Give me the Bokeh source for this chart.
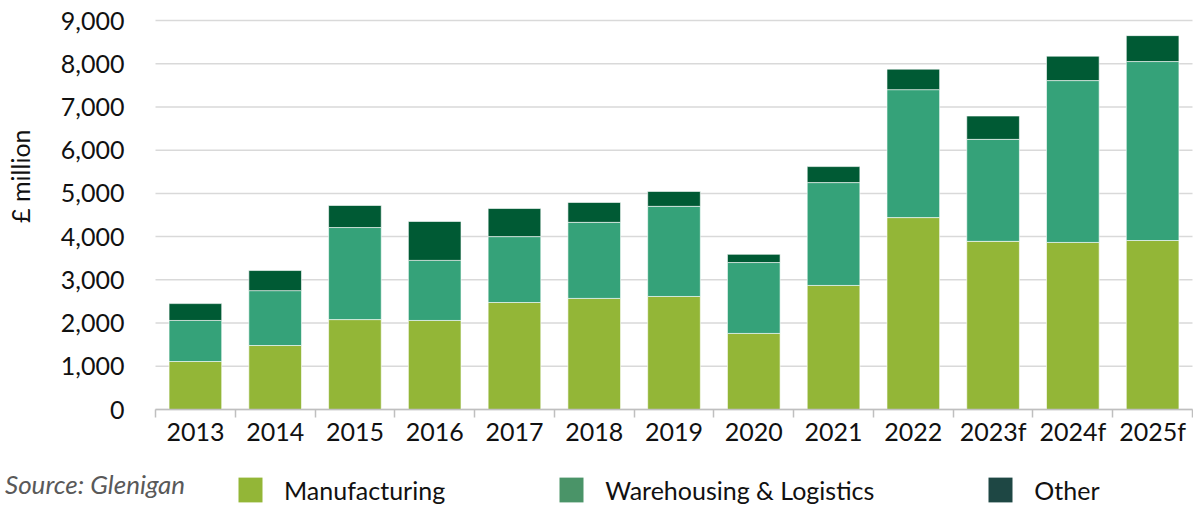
from bokeh.plotting import figure
from bokeh.models import (ColumnDataSource, FixedTicker, Range1d, Legend, LegendItem,
                          NumeralTickFormatter)
from bokeh.embed import file_html
from bokeh.resources import INLINE

years = ["2013", "2014", "2015", "2016", "2017", "2018", "2019", "2020", "2021",
         "2022", "2023f", "2024f", "2025f"]
manufacturing = [1110, 1480, 2080, 2060, 2475, 2570, 2615, 1760, 2870, 4440, 3890, 3865, 3910]
warehousing = [950, 1270, 2130, 1390, 1525, 1760, 2085, 1640, 2380, 2960, 2360, 3745, 4140]
other = [390, 465, 510, 900, 650, 460, 345, 190, 370, 475, 540, 565, 600]
y_ticks = [0, 1000, 2000, 3000, 4000, 5000, 6000, 7000, 8000, 9000]

series = ["manufacturing", "warehousing", "other"]
labels = ["Manufacturing", "Warehousing & Logistics", "Other"]
source_note = "Source: Glenigan"
bar_colors = ["#93b637", "#35a279", "#005a34"]
legend_colors = ["#93b637", "#4a9468", "#1e4744"]

FONT = "Lato"
FS = "25px"
TXT = "#111111"

# layout (pixels inside the canvas)
W, H = 1193, 506
PLOT_L, PLOT_R, PLOT_T, PLOT_B = 155, 1192, 20, 409
n = len(years)
YMAX = 9000
px_x = (PLOT_R - PLOT_L) / n
px_y = (PLOT_B - PLOT_T) / YMAX
x_range = Range1d(-PLOT_L / px_x, n + (W - PLOT_R) / px_x)
y_range = Range1d(-(H - PLOT_B) / px_y, YMAX + PLOT_T / px_y)

xc = [i + 0.5 for i in range(n)]
source = ColumnDataSource(dict(x=xc, manufacturing=manufacturing,
                               warehousing=warehousing, other=other))

p = figure(width=W, height=H, output_backend="svg", toolbar_location=None,
           x_range=x_range, y_range=y_range, min_border=0)
p.outline_line_color = None
p.xgrid.grid_line_color = None
p.ygrid.grid_line_color = None

# horizontal gridlines at the y ticks, only across the plotting area
p.segment(x0=0, x1=n, y0=y_ticks, y1=y_ticks, line_color="#d9d9d9",
          line_width=1.5, level="underlay")

p.vbar_stack(series, x="x", width=0.66, source=source, color=bar_colors,
             line_color="white", line_width=1, line_alpha=0.6)

xa = p.xaxis[0]
xa.fixed_location = 0
xa.bounds = (0, n)
xa.ticker = FixedTicker(ticks=xc, minor_ticks=list(range(n + 1)))
xa.major_label_overrides = {x: y for x, y in zip(xc, years)}
xa.major_tick_line_color = None
xa.major_tick_out = 8
xa.major_tick_in = 0
xa.minor_tick_line_color = "#bfbfbf"
xa.minor_tick_line_width = 1.5
xa.minor_tick_out = 8
xa.minor_tick_in = 0
xa.axis_line_color = "#bfbfbf"
xa.axis_line_width = 1.5
xa.major_label_standoff = -2
xa.major_label_text_font = FONT
xa.major_label_text_font_size = FS
xa.major_label_text_color = TXT

ya = p.yaxis[0]
ya.fixed_location = 0
ya.bounds = (0, y_range.end)
ya.ticker = FixedTicker(ticks=y_ticks)
ya.formatter = NumeralTickFormatter(format="0,0")
ya.axis_line_color = None
ya.major_tick_line_color = None
ya.minor_tick_line_color = None
ya.major_label_standoff = 25
ya.major_label_text_font = FONT
ya.major_label_text_font_size = FS
ya.major_label_text_color = TXT
ya.axis_label = "\u00a0" * 9 + "£ million"
ya.axis_label_text_font = FONT
ya.axis_label_text_font_size = FS
ya.axis_label_text_font_style = "normal"
ya.axis_label_text_color = TXT
ya.axis_label_standoff = 23

items = []
for lab, col in zip(labels, legend_colors):
    r = p.vbar(x=[0.5], top=[0], width=0.0, color=col, line_alpha=0, fill_alpha=1)
    items.append(LegendItem(label=lab, renderers=[r]))

legend = Legend(items=items, location=(235, 1), orientation="horizontal",
                glyph_width=30, glyph_height=31, label_standoff=19, spacing=111,
                padding=0, margin=0, border_line_color=None,
                background_fill_alpha=0, label_text_font=FONT,
                label_text_font_size=FS, label_text_color=TXT)
p.add_layout(legend, "center")

r_note = p.vbar(x=[0.5], top=[0], width=0.0, fill_alpha=0, line_alpha=0)
note = Legend(items=[LegendItem(label=source_note, renderers=[r_note])],
              location=(5, 6), glyph_width=0, glyph_height=30, label_standoff=0,
              padding=0, margin=0, border_line_color=None, background_fill_alpha=0,
              label_text_font=FONT, label_text_font_size="26px",
              label_text_font_style="italic", label_text_color="#595959")
p.add_layout(note, "center")

open("out.html", "w").write(file_html(p, INLINE))
